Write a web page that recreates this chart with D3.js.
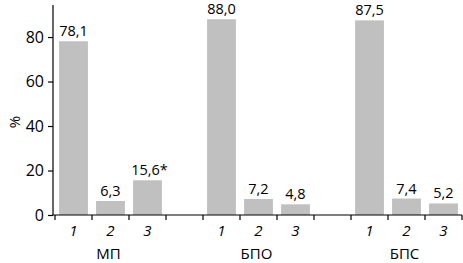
<!DOCTYPE html>
<html><head><meta charset="utf-8">
<script src="https://cdn.jsdelivr.net/npm/d3@7"></script>
<style>body{margin:0;background:#fff}svg{display:block}text{font-family:"Open Sans",sans-serif;fill:#000}</style>
</head><body><svg id="c" width="463" height="263"></svg>
<script>
const groups = ["МП", "БПО", "БПС"];
const subcats = ["1", "2", "3"];
const values = [
  [78.1, 6.3, 15.6],
  [88.0, 7.2, 4.8],
  [87.5, 7.4, 5.2]
];
const marks = [["", "", "*"], ["", "", ""], ["", "", ""]];
const yTicks = [0, 20, 40, 60, 80];
const yLabel = "%";

const svg = d3.select("#c");
const mLeft = 53, mRight = 462, mTop = 5, mBottom = 215;

// slots: 3 bars per group, a gap slot between groups
const slots = [];
groups.forEach((g, gi) => {
  subcats.forEach(s => slots.push(g + "|" + s));
  if (gi < groups.length - 1) slots.push("gap" + gi);
});
const x = d3.scaleBand().domain(slots).range([55, mRight]).paddingInner(0.22).paddingOuter(0.11);
const y = d3.scaleLinear().domain([0, 94.4]).range([mBottom, mTop]);
const step = x.step();

const data = [];
groups.forEach((g, gi) => subcats.forEach((s, si) => data.push({g, s, key: g + "|" + s, v: values[gi][si], m: marks[gi][si]})));

// bars
svg.selectAll("rect.bar").data(data).join("rect")
  .attr("x", d => x(d.key)).attr("width", x.bandwidth())
  .attr("y", d => y(d.v)).attr("height", d => y(0) - y(d.v))
  .attr("fill", "#c0c0c0");

// value labels
const fmt = d3.format(".1f");
svg.selectAll("text.val").data(data).join("text")
  .attr("x", d => x(d.key) + x.bandwidth() / 2 + (d.m ? 2 : 0))
  .attr("y", d => y(d.v) - 5)
  .attr("text-anchor", "middle").attr("font-size", 14.5)
  .text(d => fmt(d.v).replace(".", ",") + d.m);

// y axis
const yAxis = svg.append("g").attr("transform", `translate(${mLeft},0)`)
  .call(d3.axisLeft(y).tickValues(yTicks).tickSize(5).tickPadding(4).tickSizeOuter(0));
yAxis.select(".domain").remove();
yAxis.append("line").attr("x1", 0).attr("x2", 0).attr("y1", mTop).attr("y2", mBottom).attr("stroke", "#000").attr("stroke-width", 1.2);
yAxis.selectAll(".tick line").attr("stroke", "#000").attr("stroke-width", 1.2);
yAxis.selectAll(".tick text").attr("font-size", 16).attr("font-family", "Open Sans").attr("fill", "#000");

// x axis line
svg.append("line").attr("x1", mLeft).attr("x2", mRight).attr("y1", mBottom).attr("y2", mBottom).attr("stroke", "#000").attr("stroke-width", 1.2);
// boundary ticks
const bounds = slots.map(k => x(k) - step * x.paddingInner() / 2);
bounds.push(x(slots[slots.length - 1]) + x.bandwidth() + step * x.paddingInner() / 2);
svg.selectAll("line.xt").data(bounds).join("line")
  .attr("x1", d => d).attr("x2", d => d).attr("y1", mBottom).attr("y2", mBottom + 5)
  .attr("stroke", "#000").attr("stroke-width", 1.2);

// sub-category labels
svg.selectAll("text.sub").data(data).join("text")
  .attr("x", d => x(d.key) + x.bandwidth() / 2).attr("y", 236)
  .attr("text-anchor", "middle").attr("font-size", 15).attr("font-style", "italic")
  .text(d => d.s);

// group labels
svg.selectAll("text.grp").data(groups).join("text")
  .attr("x", g => x(g + "|" + subcats[1]) + x.bandwidth() / 2 - 2).attr("y", 259)
  .attr("text-anchor", "middle").attr("font-size", 15)
  .text(g => g);

// y label
svg.append("text").attr("transform", `translate(20,${(mTop + mBottom) / 2 + 12}) rotate(-90)`)
  .attr("text-anchor", "middle").attr("font-size", 15).text(yLabel);
</script></body></html>
